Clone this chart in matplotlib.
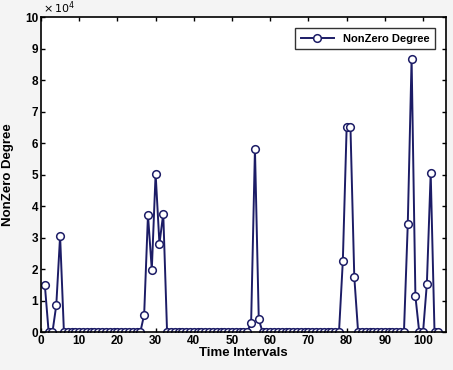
import numpy as np
import matplotlib
matplotlib.use("Agg")
from matplotlib import pyplot as plt
from matplotlib.ticker import FuncFormatter

# time interval index and nonzero degree values
intervals = list(range(1, 105))
peaks = {1: 15000, 4: 8500, 5: 30500,
         27: 5500, 28: 37200, 29: 19800, 30: 50300, 31: 28000, 32: 37600,
         55: 3000, 56: 58200, 57: 4000,
         79: 22500, 80: 65000, 81: 65000, 82: 17500,
         96: 34300, 97: 86800, 98: 11300, 101: 15400, 102: 50500}
nonzero_degree = [peaks.get(t, 0) for t in intervals]

xticks = list(range(0, 101, 10))
yticks = [i * 10000 for i in range(0, 11)]

plt.rcParams['font.family'] = ['Liberation Sans', 'DejaVu Sans']

fig = plt.figure(figsize=(4.53, 3.70), dpi=100, facecolor='#f4f4f4')
ax = fig.add_axes([0.0905, 0.1027, 0.894, 0.851])
ax.plot(intervals, nonzero_degree, color='#1c1c66', lw=1.4, marker='o',
        ms=5.5, mfc='white', mec='#1c1c66', mew=1.1, label='NonZero Degree')

ax.set_xlim(0, 106)
ax.set_ylim(0, 100000)
ax.set_xticks(xticks)
ax.set_yticks(yticks)
ax.yaxis.set_major_formatter(FuncFormatter(lambda v, p: '%d' % round(v / 10000)))
ax.text(0.005, 1.005, r'$\times\,10^{4}$', transform=ax.transAxes, fontsize=8,
        ha='left', va='bottom')
ax.tick_params(direction='in', top=True, right=True, labelsize=8.5, length=3,
               width=1, pad=2)
for lab in ax.get_xticklabels() + ax.get_yticklabels():
    lab.set_fontweight('bold')
for s in ax.spines.values():
    s.set_linewidth(1.2)

ax.set_xlabel('Time Intervals', fontsize=9.5, fontweight='bold', labelpad=0)
ax.set_ylabel('NonZero Degree', fontsize=9.5, fontweight='bold', labelpad=8)

leg = ax.legend(loc='upper right', fontsize=8, frameon=True, fancybox=False,
                bbox_to_anchor=(0.973, 0.965), borderaxespad=0,
                handlelength=3.0, borderpad=0.5)
leg.get_frame().set_edgecolor('black')
leg.get_frame().set_linewidth(1.0)
for t in leg.get_texts():
    t.set_fontweight('bold')

fig.savefig('out.png', dpi=100, facecolor=fig.get_facecolor())
